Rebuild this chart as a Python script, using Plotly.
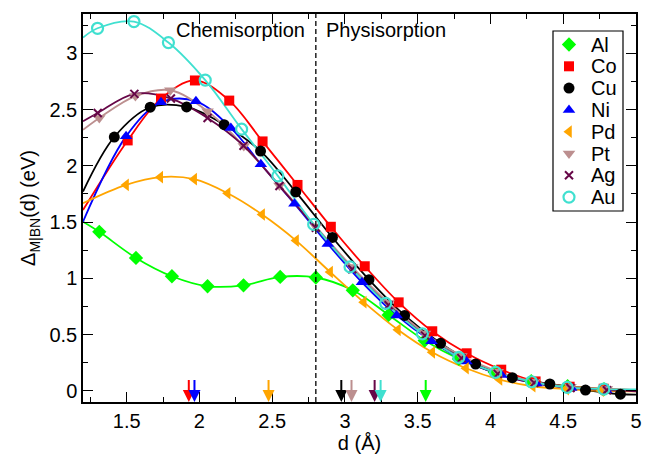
import plotly.graph_objects as go

# ---------------- data ----------------
al_x = [1.312, 1.564, 1.811, 2.056, 2.303, 2.555, 2.80, 3.054, 3.30, 3.548, 3.783, 4.03, 4.28, 4.53, 4.78]
al_y = [1.413, 1.181, 1.018, 0.929, 0.9375, 1.012, 1.007, 0.893, 0.674, 0.446, 0.283, 0.165, 0.085, 0.04, 0.015]
al_ends = (1.503, 0.005)

co_x = [1.507, 1.736, 1.969, 2.205, 2.434, 2.674, 2.903, 3.136, 3.369, 3.60, 3.836, 4.074, 4.31, 4.544, 4.778]
co_y = [2.226, 2.598, 2.759, 2.580, 2.217, 1.83, 1.458, 1.107, 0.786, 0.529, 0.333, 0.1875, 0.083, 0.036, 0.018]
co_ends = (1.607, 0.005)

cu_x = [1.415, 1.662, 1.912, 2.17, 2.42, 2.662, 2.914, 3.165, 3.41, 3.657, 3.898, 4.15, 4.408, 4.653, 4.893]
cu_y = [2.256, 2.521, 2.524, 2.366, 2.131, 1.768, 1.363, 0.988, 0.670, 0.422, 0.238, 0.116, 0.06, 0.006, -0.03]
cu_ends = (1.771, -0.035)

ni_x = [1.496, 1.736, 1.976, 2.216, 2.422, 2.653, 2.882, 3.117, 3.355, 3.595, 3.835, 4.075, 4.315, 4.555, 4.795]
ni_y = [2.262, 2.565, 2.574, 2.337, 2.015, 1.663, 1.306, 0.964, 0.670, 0.44, 0.26, 0.14, 0.065, 0.025, 0.005]
ni_ends = (1.503, 0.0)

pd_x = [1.496, 1.731, 1.964, 2.194, 2.431, 2.664, 2.898, 3.129, 3.364, 3.60, 3.832, 4.062, 4.29, 4.52, 4.76]
pd_y = [1.83, 1.899, 1.881, 1.756, 1.567, 1.335, 1.056, 0.788, 0.542, 0.342, 0.20, 0.10, 0.04, 0.015, 0.0]
pd_ends = (1.667, -0.005)

pt_x = [1.312, 1.56, 1.80, 2.056, 2.305, 2.55, 2.80, 3.05, 3.30, 3.55, 3.80, 4.05, 4.30, 4.55, 4.80]
pt_y = [2.426, 2.62, 2.672, 2.485, 2.176, 1.826, 1.46, 1.10, 0.78, 0.51, 0.31, 0.17, 0.08, 0.035, 0.015]
pt_ends = (2.32, 0.005)

ag_x = [1.301, 1.553, 1.804, 2.056, 2.303, 2.55, 2.80, 3.05, 3.30, 3.55, 3.80, 4.05, 4.30, 4.55, 4.80]
ag_y = [2.47, 2.64, 2.598, 2.426, 2.179, 1.82, 1.45, 1.08, 0.76, 0.49, 0.29, 0.15, 0.07, 0.025, 0.005]
ag_ends = (2.396, -0.005)

au_x = [1.30, 1.55, 1.787, 2.04, 2.29, 2.539, 2.785, 3.035, 3.28, 3.532, 3.783, 4.035, 4.282, 4.527, 4.779]
au_y = [3.223, 3.283, 3.096, 2.762, 2.326, 1.911, 1.479, 1.101, 0.777, 0.506, 0.297, 0.163, 0.080, 0.03, 0.015]
au_ends = (3.14, 0.012)

# arrow positions (d values marked at the bottom)
arrow_d = {"Co": 1.927, "Ni": 1.966, "Pd": 2.475, "Cu": 2.975, "Pt": 3.045,
           "Ag": 3.204, "Au": 3.245, "Al": 3.555}

separator_d = 2.8
x_range = [1.2, 5.0]
y_range = [-0.1, 3.35]
x_ticks = [1.5, 2, 2.5, 3, 3.5, 4, 4.5, 5]
x_ticklabels = ["1.5", "2", "2.5", "3", "3.5", "4", "4.5", "5"]
y_ticks = [0, 0.5, 1, 1.5, 2, 2.5, 3]
y_ticklabels = ["0", "0.5", "1", "1.5", "2", "2.5", "3"]

# ---------------- styling ----------------
FONT = "Liberation Sans, Arial, Helvetica, sans-serif"
FS = 20
series = [
    ("Al", al_x, al_y, al_ends, "#00FF00", dict(symbol="diamond", size=11)),
    ("Co", co_x, co_y, co_ends, "#FF0000", dict(symbol="square", size=10)),
    ("Cu", cu_x, cu_y, cu_ends, "#000000", dict(symbol="circle", size=11)),
    ("Ni", ni_x, ni_y, ni_ends, "#0000FF", dict(symbol="triangle-up", size=11)),
    ("Pd", pd_x, pd_y, pd_ends, "#FFA500", dict(symbol="triangle-left", size=11)),
    ("Pt", pt_x, pt_y, pt_ends, "#BC8F8F", dict(symbol="triangle-down", size=11)),
    ("Ag", ag_x, ag_y, ag_ends, "#670748", dict(symbol="x-thin", size=8, line=dict(width=2, color="#670748"))),
    ("Au", au_x, au_y, au_ends, "#40E0D0", dict(symbol="circle-open", size=11, line=dict(width=2.2, color="#40E0D0"))),
]

# the page body adds an 8 px offset, so the figure is 8 px smaller on each leading edge
OFF = 8
W, H = 652 - OFF, 454 - OFF
ML, MR, MT, MB = 83 - OFF, 16, 14 - OFF, 52
PW, PH = W - ML - MR, H - MT - MB


def px_to_paper(px, py):
    # px, py are positions in the 652x454 screenshot
    return (px - OFF - ML) / PW, (H - MB - (py - OFF)) / PH


fig = go.Figure()

# fitted curves
for name, xs, ys, ends, col, mk in series:
    fig.add_trace(go.Scatter(
        x=[x_range[0]] + xs + [x_range[1]],
        y=[ends[0]] + ys + [ends[1]],
        mode="lines", line=dict(color=col, width=1.8, shape="spline", smoothing=1.0),
        showlegend=False, hoverinfo="skip"))

# markers
for name, xs, ys, ends, col, mk in series:
    fig.add_trace(go.Scatter(x=xs, y=ys, mode="markers", name=name, showlegend=False,
                             marker=dict(color=col, **mk)))

# manual legend (box, symbols, labels)
bx0, by0 = px_to_paper(553, 31)
bx1, by1 = px_to_paper(623, 211)
fig.add_shape(type="rect", xref="paper", yref="paper", x0=bx0, x1=bx1, y0=by1, y1=by0,
              line=dict(color="black", width=1.2), fillcolor="white", layer="below")
for i, (name, xs, ys, ends, col, mk) in enumerate(series):
    mx, my = px_to_paper(569, 44.5 + 21.8 * i)
    tx, _ = px_to_paper(589, 0)
    fig.add_trace(go.Scatter(x=[mx], y=[my], xaxis="x2", yaxis="y2", mode="markers",
                             showlegend=False, hoverinfo="skip", marker=dict(color=col, **mk)))
    fig.add_annotation(x=tx, y=my, xref="paper", yref="paper", text=name, showarrow=False,
                       xanchor="left", yanchor="middle",
                       font=dict(family=FONT, size=FS, color="black"))

# separator line
fig.add_shape(type="line", x0=separator_d, x1=separator_d, xref="x",
              y0=0, y1=1, yref="paper",
              line=dict(color="black", width=1.3, dash="5px,3px"))

# region labels
fig.add_annotation(x=separator_d, xref="x", y=3.205, yref="y", text="Chemisorption",
                   showarrow=False, xanchor="right", xshift=-9,
                   font=dict(family=FONT, size=FS, color="black"))
fig.add_annotation(x=separator_d, xref="x", y=3.205, yref="y", text="Physisorption",
                   showarrow=False, xanchor="left", xshift=8,
                   font=dict(family=FONT, size=FS, color="black"))

# arrows
colors = {s[0]: s[4] for s in series}
for name, d in arrow_d.items():
    fig.add_annotation(x=d, y=y_range[0], xref="x", yref="y",
                       ax=d, ay=0.11, axref="x", ayref="y",
                       text="", showarrow=True, arrowhead=2, arrowsize=1.2,
                       arrowwidth=2, arrowcolor=colors[name], standoff=0)

minor = dict(ticks="inside", ticklen=5, dtick=0.25, tick0=0, tickcolor="black", tickwidth=1.3)


def axis(**kw):
    base = dict(showline=True, linecolor="black", linewidth=1.5, mirror="allticks",
                ticks="inside", ticklen=10, tickwidth=1.3, tickcolor="black",
                showgrid=False, zeroline=False, automargin=False,
                tickfont=dict(family=FONT, size=FS, color="black"), minor=minor)
    base.update(kw)
    return base


fig.update_layout(
    width=W, height=H,
    margin=dict(l=ML, r=MR, t=MT, b=MB),
    paper_bgcolor="white", plot_bgcolor="white",
    font=dict(family=FONT, size=FS, color="black"),
    showlegend=False,
    xaxis=axis(range=x_range, tickmode="array", tickvals=x_ticks, ticktext=x_ticklabels,
               title=dict(text="d (Å)", font=dict(family=FONT, size=FS, color="black"), standoff=6)),
    yaxis=axis(range=y_range, tickmode="array", tickvals=y_ticks, ticktext=y_ticklabels,
               title=dict(text="Δ<sub>M|BN</sub>(d) (eV)", font=dict(family=FONT, size=FS, color="black"), standoff=8)),
    xaxis2=dict(overlaying="x", range=[0, 1], visible=False, anchor="y2"),
    yaxis2=dict(overlaying="y", range=[0, 1], visible=False, anchor="x2"),
)

fig.write_html("out.html")
